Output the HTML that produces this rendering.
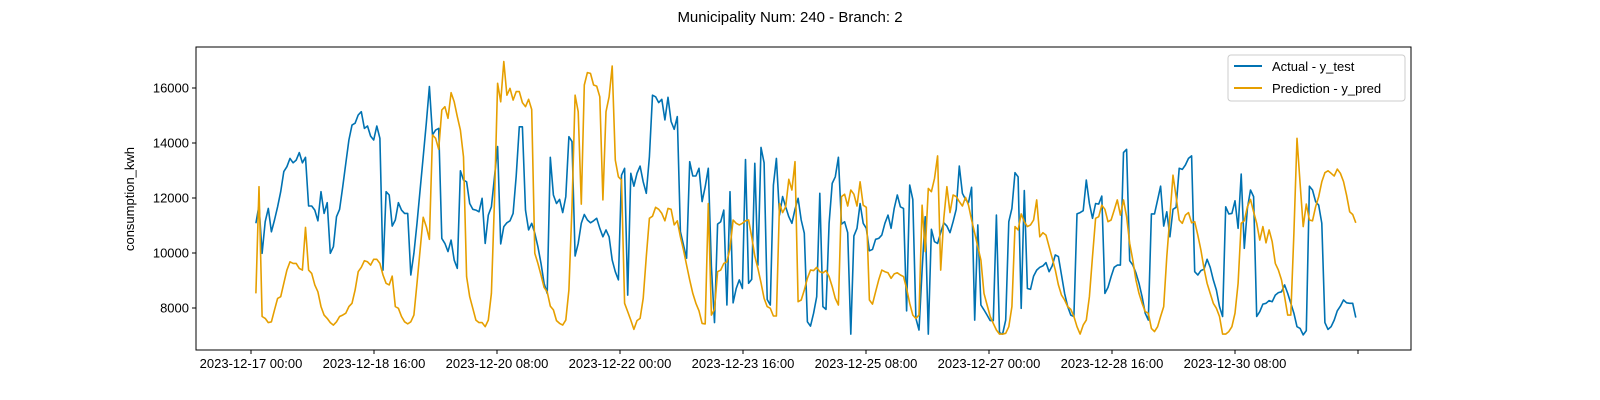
<!DOCTYPE html>
<html><head><meta charset="utf-8">
<style>
html,body{margin:0;padding:0;background:#fff;}
svg{display:block;font-family:"Liberation Sans","DejaVu Sans",sans-serif;}
</style></head>
<body>
<svg id="chart" width="1600" height="400" viewBox="0 0 1600 400" xmlns="http://www.w3.org/2000/svg">
<rect width="1600" height="400" fill="#fff"/>
<text x="790" y="22" text-anchor="middle" font-size="15" fill="#000">Municipality Num: 240 - Branch: 2</text>
<text transform="translate(134,199) rotate(-90)" text-anchor="middle" font-size="13" fill="#000">consumption_kwh</text>
<g id="yticks"></g>
<g id="xticks"></g>
<g id="series"></g>
<rect x="196" y="47" width="1215" height="303" fill="none" stroke="#000" stroke-width="1"/>
<g>
<rect x="1228" y="55" width="177" height="46" rx="3" fill="#fff" fill-opacity="0.8" stroke="#ccc"/>
<line x1="1234" y1="66" x2="1262" y2="66" stroke="#0072B2" stroke-width="2"/>
<text x="1272" y="71" font-size="13">Actual - y_test</text>
<line x1="1234" y1="88" x2="1262" y2="88" stroke="#E69F00" stroke-width="2"/>
<text x="1272" y="93" font-size="13">Prediction - y_pred</text>
</g>
</svg>
<script>
const xTickLabels = ["2023-12-17 00:00","2023-12-18 16:00","2023-12-20 08:00","2023-12-22 00:00","2023-12-23 16:00","2023-12-25 08:00","2023-12-27 00:00","2023-12-28 16:00","2023-12-30 08:00",""];
const xTickHours = [0,40,80,120,160,200,240,280,320,360];
const yTickValues = [8000,10000,12000,14000,16000];
const startHour = 1.6, endHour = 359.3;
const actual = [11080,11740,9990,11140,11620,10770,11200,11680,12230,12960,13140,13440,13280,13380,13650,13280,13480,11710,11710,11560,11170,12230,11440,11830,9990,10230,11320,11590,12400,13260,14110,14650,14720,15020,15140,14530,14620,14250,14110,14620,14170,9380,12230,12110,10980,11200,11830,11560,11440,11440,9200,9990,11080,12290,13500,14720,16050,14290,14470,14530,10530,10350,10050,10470,9740,9440,12990,12650,12590,11800,11590,11560,11500,11990,10350,11380,11680,12770,13870,10330,10960,11100,11170,11440,12800,14590,
14590,11560,10840,11080,10720,10230,9620,8900,8530,13480,12110,11800,11950,11470,12050,14230,14050,9890,10350,11080,11400,11200,11100,11170,11260,10900,10590,10840,10590,9740,9320,9020,12830,13080,8470,12900,12430,12900,13160,12590,12170,13500,15740,15680,15470,15590,14840,15660,14780,14500,14960,10780,10290,9810,13320,12800,12800,13080,11870,12410,13080,9500,7470,11050,11140,11560,8110,12230,8190,8710,9020,8710,13400,8900,9040,13260,9560,13840,13280,8310,8110,12470,13440,11380,12050,11680,11320,11080,11590,
11990,11200,10720,7500,7340,7810,8410,12170,8050,7950,11080,12530,12770,13480,11050,11140,10740,7050,10620,10900,11800,11080,10900,10080,10130,10500,10530,10650,11080,11380,10900,11620,12110,11680,11620,7900,12470,11950,7620,7200,9380,11320,7050,10860,10410,10350,10740,11100,10980,10740,11140,11590,13160,12170,11950,11830,12390,7560,11020,8110,7930,7740,7540,7540,11380,7100,7050,7560,11140,11620,12920,12770,7990,12270,8710,8680,9160,9380,9480,9530,9650,9320,9530,9930,9870,9200,8530,8050,7740,
7690,11420,11470,11540,12650,11800,11260,11800,11780,12070,8530,8750,9140,9480,9560,9560,13650,13770,9720,9560,9280,8900,8410,7810,7560,11420,11420,11930,12430,10980,11500,10590,11590,11660,13080,13040,13200,13440,13530,9320,9200,9360,9410,9770,9480,9020,8650,8050,7690,11680,11420,11440,11900,10900,12870,10170,11620,12290,12050,7690,7870,8140,8170,8270,8230,8470,8560,8590,8840,8530,8170,7810,7320,7260,7020,7180,12430,12290,11870,11740,11080,7470,7220,7320,7560,7900,8070,8290,8190,8170,8170,7650];
const predicted = [8530,12410,7690,7620,7470,7500,7930,8350,8410,8900,9380,9680,9620,9620,9440,9380,10930,9380,9260,8840,8590,8050,7740,7620,7470,7380,7500,7690,7740,7810,8050,8170,8650,9320,9480,9720,9680,9560,9770,9770,9620,9200,8900,8840,9160,8050,7990,7690,7500,7420,7500,7740,8900,10110,11300,10960,10500,14290,14170,13770,15200,15320,14900,15830,15500,14960,14470,13500,9140,8410,7990,7560,7470,7470,7320,7560,8530,11930,16170,15500,16960,15740,15990,15560,15870,
15870,15470,15320,15590,15220,9990,9620,9200,8750,8590,8070,7930,7540,7440,7380,7560,8650,11680,15740,15140,11780,16110,16560,16530,16110,16070,15680,11930,15140,15680,16800,13380,12770,12650,8170,7870,7560,7220,7540,7620,8350,9870,11260,11340,11660,11590,11440,11170,11620,11590,11020,11170,10590,10110,9560,9020,8530,8170,7900,7440,7420,11800,7740,7950,9320,9380,9620,9680,10170,11200,11080,11020,11080,11170,11200,10590,9890,9440,8920,8350,8050,7990,7710,7710,11800,11470,11680,12680,
12290,13320,8230,8290,8650,9080,9380,9360,9480,9320,9280,9360,9140,8780,8350,8110,12050,12140,11710,12290,12140,11710,12590,11740,11660,8290,8140,8590,9020,9380,9320,9280,9080,9240,9280,9200,9140,8710,8170,7740,7620,7740,11740,10050,12350,12230,12710,13530,9380,11260,12410,11470,12110,12050,11870,11710,12020,11740,11200,10720,10230,9740,8530,8110,7690,7440,7200,7050,7050,7080,7320,8050,10960,10840,11420,11140,10960,11020,11200,11930,10590,10740,10650,10230,9810,9380,8840,8470,
8290,8050,7950,7690,7320,7050,7380,7560,8410,9870,11260,11320,11740,11590,11140,11200,11560,11930,11380,11930,11320,10350,9740,9020,8530,8170,7870,7810,7260,7140,7320,7690,8050,9870,11320,12830,12050,11200,11080,11380,11470,11100,11140,10650,10110,9440,8900,8530,8170,7990,7690,7050,7050,7140,7320,7810,8900,11080,11170,11680,11950,11500,11080,10470,10960,10370,10840,10410,9620,9380,9020,8410,7740,7740,10720,14170,12530,10960,11780,11200,11170,11680,12050,12590,12920,12990,12900,12800,13050,12900,12600,12100,11500,11400,11100];

const X0=251, X1=1358, H0=0, H1=360;
const Y0=88, Y1=308, V0=16000, V1=8000;
function xScale(h){return X0+(h-H0)*(X1-X0)/(H1-H0);}
function yScale(v){return Y0+(v-V0)*(Y1-Y0)/(V1-V0);}
const NS="http://www.w3.org/2000/svg";
const yt=document.getElementById('yticks');
yTickValues.forEach(v=>{
  const y=yScale(v);
  const l=document.createElementNS(NS,'line');
  l.setAttribute('x1',192);l.setAttribute('x2',196);l.setAttribute('y1',y);l.setAttribute('y2',y);l.setAttribute('stroke','#000');
  
  
  yt.appendChild(l);
  const t=document.createElementNS(NS,'text');
  t.setAttribute('x',189);t.setAttribute('y',y+4.5);t.setAttribute('text-anchor','end');t.setAttribute('font-size','13');
  t.textContent=v;
  
  
  yt.appendChild(t);
});
const xt=document.getElementById('xticks');
xTickHours.forEach((h,i)=>{
  const x=xScale(h);
  const l=document.createElementNS(NS,'line');
  l.setAttribute('x1',x);l.setAttribute('x2',x);l.setAttribute('y1',350);l.setAttribute('y2',354);l.setAttribute('stroke','#000');
  
  
  xt.appendChild(l);
  const t=document.createElementNS(NS,'text');
  t.setAttribute('x',x);t.setAttribute('y',368);t.setAttribute('text-anchor','middle');t.setAttribute('font-size','13');
  t.textContent=xTickLabels[i];
  
  
  xt.appendChild(t);
});
function drawSeries(vals,color,name){
  const n=vals.length;
  const pts=vals.map((v,i)=>{
    const h=startHour+i*(endHour-startHour)/(n-1);
    return xScale(h).toFixed(1)+','+yScale(v).toFixed(1);
  }).join(' ');
  const p=document.createElementNS(NS,'polyline');
  p.setAttribute('points',pts);p.setAttribute('fill','none');p.setAttribute('stroke',color);
  p.setAttribute('stroke-width','1.6');p.setAttribute('stroke-linejoin','round');
  
  
  document.getElementById('series').appendChild(p);
}
drawSeries(actual,'#0072B2','actual-line');
drawSeries(predicted,'#E69F00','prediction-line');
</script>
</body></html>
